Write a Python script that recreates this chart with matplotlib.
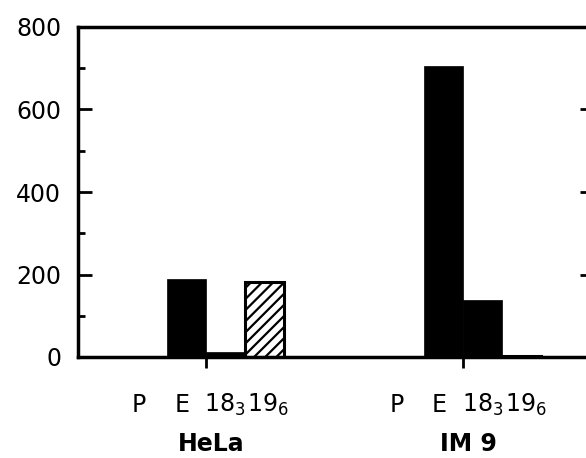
import matplotlib
matplotlib.use("Agg")
import matplotlib.pyplot as plt
from matplotlib.ticker import MultipleLocator

samples = ["P", "E", "18$_3$", "19$_6$"]
groups = ["HeLa", "IM 9"]
hela = [0, 189, 12, 182]
im9 = [0, 705, 138, 3]
hatched = [False, False, False, True]
group_start = [0, 6.6]

plt.rcParams["font.family"] = "DejaVu Sans"
plt.rcParams["hatch.linewidth"] = 1.6

fig = plt.figure(figsize=(5.86, 4.58), dpi=100)
ax = fig.add_axes([78/586, 1-357/458, (594-78)/586, (357-27)/458])

label_dx = [-0.2, -0.1, 0.0, 0.1]
for g, vals in enumerate([hela, im9]):
    for i, v in enumerate(vals):
        x = group_start[g] + i
        if hatched[i]:
            ax.bar(x, v, width=1.0, color="white", edgecolor="black",
                   hatch="///", linewidth=2.2)
        else:
            ax.bar(x, v, width=1.0, color="black", edgecolor="black", linewidth=0.5)
        ax.text(x + label_dx[i], -0.145, samples[i], transform=ax.get_xaxis_transform(),
                ha="center", va="center", fontsize=17)
    ax.text(group_start[g] + 1.65, -0.265, groups[g], transform=ax.get_xaxis_transform(),
            ha="center", va="center", fontsize=17, fontweight="bold")

ax.set_xlim(-1.77, 11.46)
ax.set_ylim(0, 800)

ax.yaxis.set_major_locator(MultipleLocator(200))
ax.yaxis.set_minor_locator(MultipleLocator(100))
ax.tick_params(axis="y", which="major", direction="in", length=10, width=2,
               labelsize=17, pad=12, right=True)
ax.tick_params(axis="y", which="minor", direction="in", length=5, width=2, right=False)
ax.set_xticks([1.5, group_start[1] + 1.5])
ax.set_xticklabels([])
ax.tick_params(axis="x", direction="out", length=8, width=2)

for s in ax.spines.values():
    s.set_linewidth(2.5)

fig.savefig("out.png", dpi=100)
